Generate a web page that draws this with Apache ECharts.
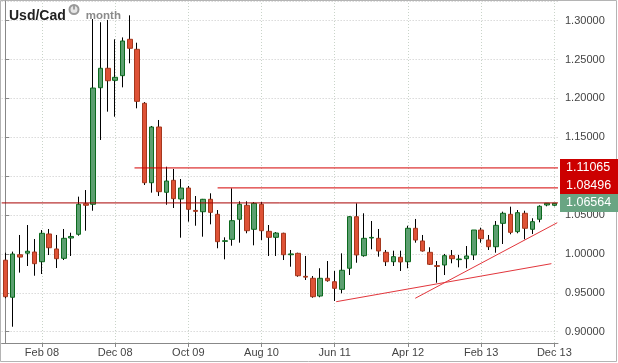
<!DOCTYPE html>
<html><head><meta charset="utf-8">
<script src="https://cdn.jsdelivr.net/npm/echarts@6/dist/echarts.min.js"></script>
<style>html,body{margin:0;padding:0;background:#fff}#c{width:618px;height:363px}</style>
</head><body><div id="c"></div>
<script>
const months = ['Oct 07','Nov 07','Dec 07',
 'Jan 08','Feb 08','Mar 08','Apr 08','May 08','Jun 08','Jul 08','Aug 08','Sep 08','Oct 08','Nov 08','Dec 08',
 'Jan 09','Feb 09','Mar 09','Apr 09','May 09','Jun 09','Jul 09','Aug 09','Sep 09','Oct 09','Nov 09','Dec 09',
 'Jan 10','Feb 10','Mar 10','Apr 10','May 10','Jun 10','Jul 10','Aug 10','Sep 10','Oct 10','Nov 10','Dec 10',
 'Jan 11','Feb 11','Mar 11','Apr 11','May 11','Jun 11','Jul 11','Aug 11','Sep 11','Oct 11','Nov 11','Dec 11',
 'Jan 12','Feb 12','Mar 12','Apr 12','May 12','Jun 12','Jul 12','Aug 12','Sep 12','Oct 12','Nov 12','Dec 12',
 'Jan 13','Feb 13','Mar 13','Apr 13','May 13','Jun 13','Jul 13','Aug 13','Sep 13','Oct 13','Nov 13','Dec 13',
 'Jan 14'];
const opens = [0.992,0.9443,0.999,1.001,1.0025,0.990,1.0257,1.0064,0.9944,1.0205,1.0253,1.0646,1.0639,1.2138,1.2388,
 1.2233,1.2293,1.2761,1.2632,1.1938,1.0916,1.1633,1.0793,1.0947,1.0707,1.0848,1.0560,
 1.0543,1.0703,1.0510,1.0162,1.0188,1.0446,1.0626,1.0317,1.0639,1.0291,1.0214,1.0266,
 0.9990,1.0008,0.9712,0.9687,0.9459,0.9687,0.9643,0.9545,0.9816,1.0479,0.9978,1.0205,
 1.0201,1.0021,0.990,0.9957,0.990,1.033,1.0167,1.0021,0.9850,0.9858,0.9978,0.9927,
 0.9939,0.9987,1.0308,1.0179,1.0093,1.0394,1.051,1.0287,1.0523,1.0317,1.0446,1.063,
 1.0626];
const closes = [0.945,0.9999,0.996,1.0035,0.9875,1.0266,1.0080,0.9939,1.0201,1.0225,1.0639,1.0626,1.2134,1.2388,1.2228,
 1.2272,1.2739,1.2645,1.1963,1.0916,1.1633,1.0801,1.0938,1.0711,1.0848,1.0574,1.0548,
 1.0703,1.0535,1.0158,1.0170,1.0428,1.0639,1.0299,1.0651,1.0299,1.0214,1.0269,0.9990,
 1.0000,0.9720,0.9702,0.945,0.9687,0.9656,0.9558,0.979,1.0479,0.9987,1.0201,1.0213,
 1.0038,0.990,0.9965,0.9897,1.033,1.0179,1.0038,0.9867,0.9840,0.9978,0.9939,0.9935,
 0.9974,1.0308,1.0196,1.0093,1.0368,1.0523,1.0278,1.0531,1.033,1.0415,1.0613,1.0652,
 1.0652];
const lows = [0.943,0.9064,0.976,0.9845,0.972,0.9742,0.9986,0.9819,0.9922,0.9974,1.0235,1.0299,1.0556,1.1466,1.183,
 1.1765,1.2143,1.2452,1.1873,1.0887,1.0788,1.0745,1.0633,1.0591,1.0209,1.0415,1.0363,
 1.0222,1.0381,1.0073,0.9931,1.0106,1.0145,1.0266,1.0111,1.0179,0.9974,0.9974,0.9922,
 0.9836,0.9707,0.9665,0.9437,0.9443,0.9643,0.9395,0.9494,0.9729,0.9887,0.9965,1.006,
 0.9965,0.9845,0.9845,0.9781,0.9816,1.0145,1.003,0.9858,0.963,0.9729,0.988,0.9828,
 0.9816,0.9922,1.0145,1.0051,1.0016,1.0128,1.0253,1.0266,1.0188,1.0257,1.0407,1.0613,
 1.0613];
const highs = [1.0016,1.003,1.0244,1.0372,1.0192,1.0308,1.0321,1.0244,1.0321,1.0273,1.0737,1.0822,1.3022,1.298,1.301,
 1.2761,1.2785,1.3069,1.2717,1.1954,1.1646,1.1723,1.1122,1.1093,1.0964,1.0874,1.0745,
 1.0708,1.078,1.0565,1.0214,1.0844,1.0677,1.0677,1.0668,1.0668,1.0372,1.0282,1.0273,
 1.0051,1.0016,0.9974,0.9716,0.9816,0.9909,0.9781,1.0008,1.0488,1.0651,1.0523,1.0424,
 1.0321,1.0051,1.0042,1.0042,1.0363,1.045,1.0244,1.0086,0.9909,1.0,1.0051,0.9987,
 1.0102,1.0308,1.0338,1.0244,1.0424,1.0544,1.0608,1.0565,1.0556,1.0459,1.0626,1.0655,
 1.0655];
const tickIndex = [5,15,25,35,45,55,65,75];
const tickLabels = ['Feb 08','Dec 08','Oct 09','Aug 10','Jun 11','Apr 12','Feb 13','Dec 13'];
const levelValues = [1.11065, 1.08496, 1.06564];
const levelStarts = [17.65, 29, -0.5];
const levelColors = ['#d40000','#d40000','#a80000'];
const tagColors = ['#cc0000','#cc0000','#69a583'];
const trendLines = [
  [[45.2,0.9386],[74.6,0.9875]],
  [[56.0,0.9430],[75.4,1.0402]]
];

const FONT = 'Liberation Sans, Arial, sans-serif';
const chart = echarts.init(document.getElementById('c'), null, {renderer:'canvas'});
const isTick = i => tickIndex.indexOf(i) >= 0;

const series = [
  {
    type:'candlestick', xAxisIndex:0, yAxisIndex:0, z:2, barWidth:1, silent:true,
    data: months.map((m,i)=>[opens[i],closes[i],lows[i],highs[i]]),
    itemStyle:{color:'#000',color0:'#000',borderColor:'#000',borderColor0:'#000',borderWidth:1},
    markLine:{z:1, silent:true, symbol:'none', animation:false, label:{show:false},
      lineStyle:{color:'#c9d4c9', type:[1,2], width:1},
      data: tickIndex.map(i=>({xAxis:i}))}
  },
  {
    type:'candlestick', xAxisIndex:0, yAxisIndex:0, z:3, barWidth:5, silent:true,
    data: months.map((m,i)=>[opens[i],closes[i],Math.min(opens[i],closes[i]),Math.max(opens[i],closes[i])]),
    itemStyle:{color:'#5c9f70',color0:'#de5236',borderColor:'#0c6a1e',borderColor0:'#a5381e',borderWidth:1}
  }
];
levelValues.forEach((v,k)=>{
  series.push({
    type:'line', xAxisIndex:1, yAxisIndex:0, z:5, silent:true, symbol:'none', animation:false,
    data:[[levelStarts[k], v],[75.5, v]],
    lineStyle:{color:levelColors[k], width:1},
    endLabel:{show:true, formatter:p=>p.value[1].toFixed(5), color:'#fff', fontFamily:FONT, fontSize:12.5,
      backgroundColor:tagColors[k], padding:[2,15,2,6], lineHeight:14, distance:2,
      offset: k===1 ? [0,-2] : [0,0]}
  });
});
trendLines.forEach(t=>{
  series.push({
    type:'line', xAxisIndex:1, yAxisIndex:0, z:5, silent:true, symbol:'none',
    data:t, lineStyle:{color:'#e2363c', width:1}
  });
});

chart.setOption({
  animation:false,
  backgroundColor:'#fff',
  title:{left:4, top:2, text:'{a|Usd/Cad}{g|}{b|month}',
    textStyle:{rich:{
      a:{fontFamily:FONT, fontWeight:'bold', fontSize:14, color:'#222'},
      g:{width:20},
      b:{fontFamily:FONT, fontSize:11.5, color:'#8a8a8a'}
    }}},
  graphic:[
    {type:'rect', silent:true, z:-1, shape:{x:0.5,y:0.5,width:616,height:361}, style:{fill:'none', stroke:'#b4b4b4', lineWidth:1}},
    {type:'circle', silent:true, z:10, shape:{cx:74,cy:9.5,r:4.5}, style:{fill:'#e6e6e6', stroke:'#999', lineWidth:2}},
    {type:'line', silent:true, z:11, shape:{x1:74,y1:9.5,x2:74,y2:6}, style:{stroke:'#888', lineWidth:1.5}}
  ],
  grid:{left:1.65, right:60, top:1, bottom:20},
  xAxis:[
    {type:'category', data:months, boundaryGap:true,
     axisLine:{show:true, lineStyle:{color:'#888'}},
     axisTick:{show:true, alignWithLabel:true, interval:(i)=>isTick(i), length:4, lineStyle:{color:'#888'}},
     axisLabel:{interval:(i)=>isTick(i), formatter:(v,i)=>tickLabels[tickIndex.indexOf(i)], color:'#444', fontSize:11, fontFamily:FONT, margin:4},
     splitLine:{show:false}
    },
    {type:'value', min:-0.5, max:75.5, show:false, splitLine:{show:false}}
  ],
  yAxis:{type:'value', position:'right', min:0.88547, max:1.32534, splitNumber:9, scale:true,
    axisLine:{show:true, lineStyle:{color:'#888'}},
    axisTick:{show:true, length:4, lineStyle:{color:'#888'}},
    axisLabel:{showMinLabel:false, showMaxLabel:false, formatter:v=>v.toFixed(5), color:'#444', fontSize:11, fontFamily:FONT, margin:7},
    splitLine:{show:true, lineStyle:{color:'#c8c8c8', type:[1,2]}}
  },
  series:series
});
</script></body></html>
